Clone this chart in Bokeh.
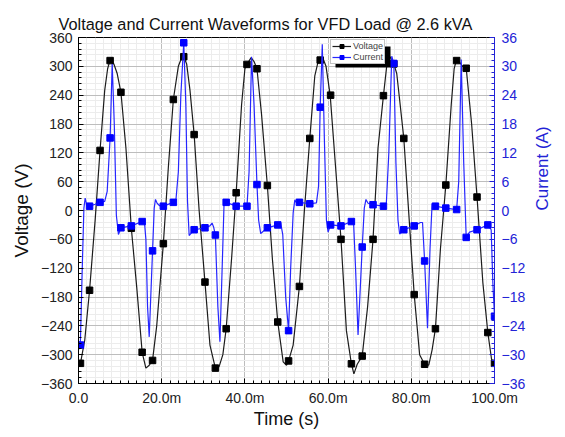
import math
from bokeh.plotting import figure
from bokeh.models import (Range1d, LinearAxis, FixedTicker, Legend, LegendItem,
                          BoxAnnotation)
from bokeh.embed import file_html
from bokeh.resources import INLINE

# ---- data (time in ms) ----
t_v = [0.0, 0.47, 1.5, 2.66, 4.0, 5.18, 6.3, 7.0, 7.53, 8.5, 9.3, 10.2, 11.4, 12.7, 14.0, 15.3, 16.2, 17.0,
       17.8, 18.8, 20.4, 21.6, 22.8, 24.0, 24.8, 25.3, 26.0, 26.8, 27.8, 29.0, 30.4, 31.6, 32.9, 33.8, 34.7,
       35.5, 36.8, 37.9, 39.2, 40.0, 40.5, 41.5, 42.2, 42.9, 44.0, 45.4, 46.6, 47.9, 49.2, 50.0, 50.5, 51.6,
       53.1, 54.3, 55.6, 56.8, 57.6, 58.1, 58.7, 59.5, 60.5, 61.8, 63.1, 64.4, 65.6, 66.2, 67.0, 68.2, 69.5,
       70.8, 72.0, 73.3, 74.4, 75.0, 75.8, 76.5, 77.2, 78.2, 79.5, 80.7, 82.0, 83.2, 84.2, 85.0, 85.8, 87.0,
       88.3, 89.6, 90.3, 90.8, 91.5, 92.3, 93.2, 94.5, 95.8, 97.2, 98.4, 99.3, 100.0]
v_line = [-322, -318, -270, -166, -20, 125, 250, 295, 312, 305, 285, 246, 130, -37, -160, -295, -328, -322,
          -312, -240, -69, 90, 231, 300, 318, 320, 305, 250, 158, 0, -149, -280, -328, -325, -300,
          -246, -100, 37, 220, 295, 304, 318, 310, 295, 200, 52, -100, -232, -315, -322, -313, -280,
          -158, 0, 150, 280, 310, 313, 318, 300, 240, 90, -60, -250, -319, -340, -320, -303, -200,
          -60, 130, 239, 325, 318, 305, 285, 230, 150, -20, -175, -300, -320, -322, -290, -246, -80,
          53, 220, 295, 312, 310, 300, 296, 180, 28, -150, -254, -310, -318]

t_i = [0.0, 0.47, 0.9, 1.3, 1.6, 2.0, 2.66, 4.0, 5.18, 6.3,
       6.9, 7.6, 8.1, 8.6, 9.1, 9.6, 10.2, 12.7, 15.3, 15.8,
       16.2, 16.6, 17.0, 17.8, 18.2, 18.5, 18.9, 19.5, 20.4, 22.8,
       23.4, 24.0, 24.6, 25.3, 25.8, 26.2, 26.6, 27.8, 30.4, 31.6,
       32.1, 32.5, 32.9, 33.5, 34.0, 34.6, 35.0, 35.5, 37.9, 40.5,
       41.0, 41.6, 42.2, 42.9, 43.3, 43.8, 45.4, 47.9, 48.6, 49.1,
       49.8, 50.5, 51.0, 51.6, 52.0, 52.4, 53.1, 55.6, 57.2, 57.7,
       58.1, 58.6, 59.1, 59.6, 60.0, 60.6, 63.1, 65.6, 66.1, 66.6,
       67.2, 68.2, 68.7, 69.1, 69.6, 70.8, 73.3, 74.0, 74.6, 75.3,
       75.8, 76.3, 76.8, 77.2, 78.2, 80.7, 82.2, 82.7, 83.2, 83.9,
       84.5, 85.0, 85.8, 88.3, 90.9, 91.4, 92.0, 92.6, 93.2, 94.0,
       95.8, 98.4, 99.2, 99.6, 100.0]
i_line = [-29, -27, -12, 0.5, 2.6, 1.0, 0.9, 1.3, 1.7, 1.9,
          4, 15.1, 30.5, 18, -1, -5.0, -3.6, -3.2, -2.3, -1.8,
          -6, -20, -26.3, -8.4, 0.5, 2.3, 1.5, 1.0, 0.9, 1.7,
          2.0, 8, 24, 34.9, 22, 2, -5.2, -4.0, -3.6, -3.2,
          -2.6, -3.5, -5.1, -20, -27.3, -10, 1.8, 1.7, 0.9, 0.9,
          8, 32, 22, 5.4, -2, -4.8, -3.6, -3.0, -2.6, -5,
          -18, -25.0, -12, -0.5, 2.2, 1.6, 1.7, 1.4, 1.6, 5,
          21.5, 34.6, 15, -2, -4.5, -3.0, -3.2, -2.3, -2.0, -12,
          -25.9, -7.6, 0.5, 2.3, 1.5, 1.2, 0.9, 1.5, 12, 32.1,
          30.6, 10, -2, -4.9, -4.0, -3.2, -2.5, -2.5, -10.5, -24.5,
          -8, 1.4, 0.9, 0.5, 0.2, 6, 31.4, 10, -5.6, -4.5,
          -4.0, -3.0, -4, -15, -22]

t_mark = [0.47, 2.66, 5.18, 7.6, 10.2, 12.7, 15.3, 17.8, 20.4, 22.8, 25.3, 27.8, 30.4, 32.9, 35.5, 37.9,
          40.5, 42.9, 45.4, 47.9, 50.5, 53.1, 55.6, 58.1, 60.6, 63.1, 65.6, 68.2, 70.8, 73.3, 75.8, 78.2,
          80.7, 83.2, 85.8, 88.3, 90.9, 93.2, 95.8, 98.4, 100.0]
v_mark = [-318, -166, 125, 312, 246, -37, -295, -312, -69, 231, 320, 158, -149, -328, -246, 37,
          304, 295, 52, -232, -313, -158, 150, 313, 240, -60, -319, -303, -60, 239, 305, 150,
          -175, -320, -246, 53, 312, 296, 28, -254, -318]
i_mark = [-28, 0.9, 1.7, 15.1, -3.6, -3.2, -2.3, -8.4, 0.9, 1.7, 34.9, -4.0, -3.6, -5.1, 1.7, 0.9,
          0.9, 5.4, -3.6, -3.0, -25.0, 1.7, 1.4, 21.5, -3.0, -3.2, -2.3, -7.6, 1.2, 0.9, 30.6, -4.0,
          -3.2, -10.5, 0.9, 0.5, 0.2, -5.6, -4.0, -3.0, -22]

x_ticks = [0, 20, 40, 60, 80, 100]
x_tick_labels = ["0.0", "20.0m", "40.0m", "60.0m", "80.0m", "100.0m"]
v_ticks = [-360, -300, -240, -180, -120, -60, 0, 60, 120, 180, 240, 300, 360]
i_ticks = [-36, -30, -24, -18, -12, -6, 0, 6, 12, 18, 24, 30, 36]

FONT = "Liberation Sans"
BLUE = "#2626ff"
BLUE_AX = "#2323d6"

p = figure(width=564, height=435, output_backend="svg", toolbar_location=None,
           x_range=Range1d(0, 100), y_range=Range1d(-360, 360),
           min_border_left=78, min_border_right=60, min_border_top=37, min_border_bottom=52)
p.extra_y_ranges = {"cur": Range1d(-36, 36)}

p.title.text = "Voltage and Current Waveforms for VFD Load @ 2.6 kVA"
p.title.text_font = FONT
p.title.text_font_style = "normal"
p.title.text_font_size = "16.3px"
p.title.align = "left"
p.title.offset = -20
p.title.standoff = 10
p.title.text_color = "#111111"

p.outline_line_color = "black"
p.outline_line_width = 1
p.outline_line_alpha = 1
p.background_fill_color = "white"
p.border_fill_color = "white"

xa = p.xaxis[0]
xa.ticker = FixedTicker(ticks=x_ticks, minor_ticks=[2 * k for k in range(51)])
xa.major_label_overrides = {t: lab for t, lab in zip(x_ticks, x_tick_labels)}
xa.axis_label = "Time (s)"

ya = p.yaxis[0]
ya.ticker = FixedTicker(ticks=v_ticks, minor_ticks=list(range(-360, 361, 12)))
ya.axis_label = "Voltage (V)"

ra = LinearAxis(y_range_name="cur",
                ticker=FixedTicker(ticks=i_ticks, minor_ticks=[round(-36 + 1.2 * k, 1) for k in range(61)]),
                axis_label="Current (A)")
p.add_layout(ra, "right")

for ax in (xa, ya, ra):
    ax.major_tick_in = 5
    ax.major_tick_out = 0
    ax.minor_tick_in = 3
    ax.minor_tick_out = 0
    ax.major_label_text_font = FONT
    ax.major_label_text_font_size = "14px"
    ax.axis_label_text_font = FONT
    ax.axis_label_text_font_size = "18px"
    ax.axis_label_text_font_style = "normal"
    ax.axis_line_color = "black"
    ax.major_tick_line_color = "black"
    ax.minor_tick_line_color = "black"
    ax.major_label_text_color = "#222222"
    ax.axis_label_text_color = "#111111"

xa.major_label_standoff = 6
xa.axis_label_standoff = 0
ya.major_label_standoff = 6
ya.axis_label_standoff = 6
ya.axis_label_text_font_size = "19px"
ra.major_label_standoff = 7
ra.axis_label_standoff = 14
ra.axis_label_text_font_size = "17px"
ra.axis_label_orientation = math.pi / 2
ra.axis_line_color = BLUE_AX
ra.major_tick_line_color = BLUE_AX
ra.minor_tick_line_color = BLUE_AX
ra.major_label_text_color = BLUE_AX
ra.axis_label_text_color = BLUE_AX

for g in (p.xgrid[0], p.ygrid[0]):
    g.grid_line_color = "#bdbdbd"
    g.grid_line_width = 1
    g.minor_grid_line_color = "#ececec"
    g.minor_grid_line_width = 1

lv = p.line(t_v, v_line, line_color="#1c1c1c", line_width=1.2)
mv = p.scatter(t_mark, v_mark, marker="square", size=6.5, fill_color="black", line_color="black")
li = p.line(t_i, i_line, line_color=BLUE, line_width=1.2, y_range_name="cur")
mi = p.scatter(t_mark, i_mark, marker="square", size=6.5, fill_color="#0000ff", line_color="#0000ff",
               y_range_name="cur")

# legend drop shadow (frame-relative screen units)
shadow = BoxAnnotation(left=257, right=312, top=337, bottom=316,
                       left_units="screen", right_units="screen", top_units="screen", bottom_units="screen",
                       fill_color="black", fill_alpha=1, line_color=None)
p.add_layout(shadow)

legend = Legend(items=[LegendItem(label="Voltage", renderers=[lv, mv]),
                       LegendItem(label="Current", renderers=[li, mi])],
                location=(252, 319))
legend.label_text_font = FONT
legend.label_text_font_size = "9px"
legend.glyph_width = 19
legend.glyph_height = 10
legend.label_height = 10
legend.spacing = 1
legend.padding = 1
legend.margin = 0
legend.label_standoff = 2
legend.border_line_color = "#888888"
legend.background_fill_color = "white"
legend.background_fill_alpha = 1
p.add_layout(legend, "center")

open("out.html", "w").write(file_html(p, INLINE))
